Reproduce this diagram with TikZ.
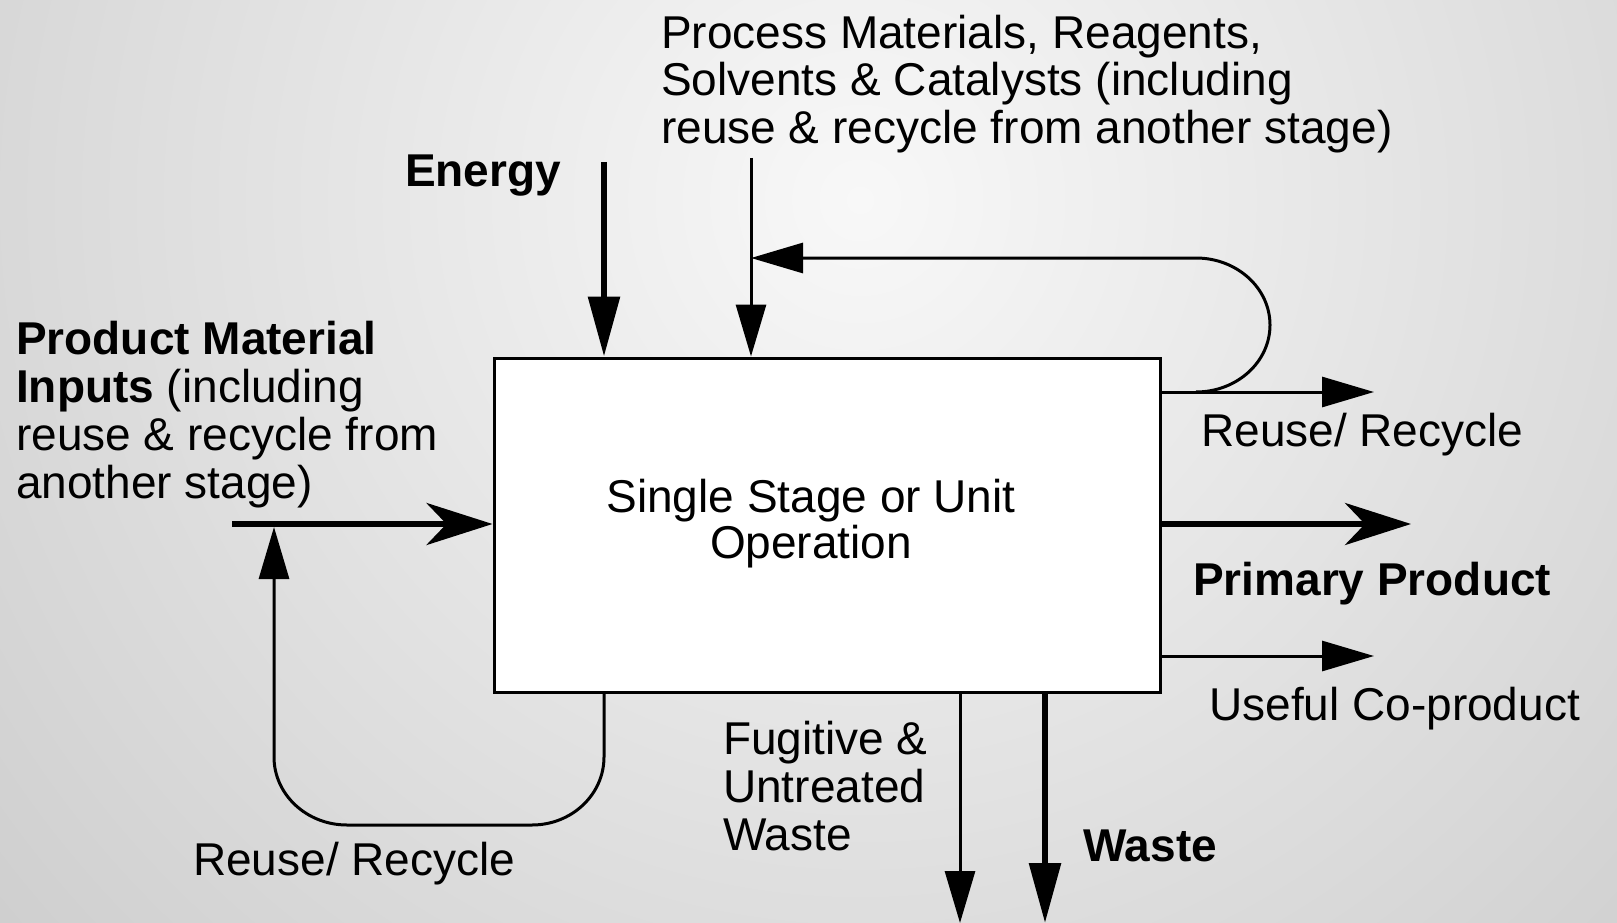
\documentclass[tikz,border=0pt]{standalone}
\usepackage{fontspec}
\setmainfont{Liberation Sans}
\usepackage{tikz}
\usetikzlibrary{arrows.meta}
\definecolor{bg_in}{RGB}{248,248,248}
\definecolor{bg_out}{RGB}{166,166,166}

\begin{document}
\begin{tikzpicture}[x=1pt, y=-1pt,
		box_style/.style={draw=black, line width=3pt, fill=white, minimum width=666pt, minimum height=334pt},
		label_style/.style={anchor=base west, inner sep=0pt, align=left, font=\fontsize{46}{48}\selectfont},
		bold_style/.style={label_style, font=\fontsize{46}{48}\selectfont\bfseries},
		thin_flow/.style={draw=black, line width=3pt, -{Triangle[length=52pt, width=30pt]}},
		thick_flow/.style={draw=black, line width=6pt, -{Triangle[length=60pt, width=31pt]}},
		main_flow/.style={draw=black, line width=6pt, -{Stealth[length=66pt, width=42pt, inset=20pt]}}]
		\useasboundingbox (0,0) rectangle (1617,923);
		\clip (0,0) rectangle (1617,923);
		\shade[inner color=bg_in, outer color=bg_out] (860,200) circle [radius=2240pt];
		\node[box_style] (unit) at (827,525) {};
		\node[label_style, anchor=base, align=center, font=\fontsize{46}{46}\selectfont] (unit_text) at (811,558) {Single Stage or Unit\\Operation};
		\node[label_style] (proc) at (661,144) {Process Materials, Reagents,\\Solvents \& Catalysts (including\\reuse \& recycle from another stage)};
		\node[bold_style] (energy) at (405,186) {Energy};
		\node[label_style] (inputs) at (16,498) {\textbf{Product Material}\\\textbf{Inputs} (including\\reuse \& recycle from\\another stage)};
		\node[label_style] (reuse1) at (1201,446) {Reuse/ Recycle};
		\node[bold_style] (primary) at (1193,595) {Primary Product};
		\node[label_style] (coprod) at (1209,720) {Useful Co-product};
		\node[label_style] (fugitive) at (723,850) {Fugitive \&\\Untreated\\Waste};
		\node[bold_style] (waste) at (1083,861) {Waste};
		\node[label_style] (reuse2) at (193,875) {Reuse/ Recycle};
		\coordinate (e_top) at (604,162);
		\coordinate (p_top) at (751,158);
		\coordinate (feed) at (232,524);
		\coordinate (loop_top) at (1196,258);
		\coordinate (loop_bot) at (1196,392);
		\coordinate (out_re) at (1374,392);
		\coordinate (out_main) at (1411,524);
		\coordinate (out_co) at (1374,656);
		\coordinate (fug_end) at (960,923);
		\coordinate (waste_end) at (1045,923);
		\coordinate (ret_top) at (274,527);
		\coordinate (ret_bot) at (604,757);
		\draw[thick_flow] (e_top) -- (e_top |- unit.north);
		\draw[thin_flow] (p_top) -- (p_top |- unit.north);
		\draw[main_flow] (feed) -- (feed -| unit.west);
		\draw[main_flow] (unit.east |- out_main) -- (out_main);
		\draw[thin_flow] (unit.east |- out_re) -- (out_re);
		\draw[thin_flow] (unit.east |- out_co) -- (out_co);
		\draw[thin_flow] (loop_bot) arc[start angle=90, end angle=-90, x radius=74, y radius=67] -- (loop_top -| p_top);
		\draw[thin_flow] (unit.south -| ret_bot) -- (ret_bot) arc[start angle=0, end angle=90, x radius=72, y radius=68] -- ++(-185,0) arc[start angle=90, end angle=180, x radius=73, y radius=68] -- (ret_top);
		\draw[thin_flow] (unit.south -| fug_end) -- (fug_end);
		\draw[thick_flow] (unit.south -| waste_end) -- (waste_end);
		\end{tikzpicture}
\end{document}
